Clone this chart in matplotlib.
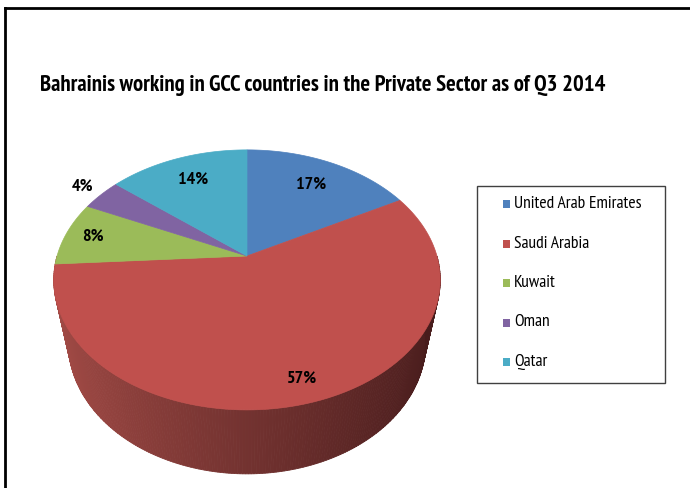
import numpy as np
import matplotlib
matplotlib.use("Agg")
import matplotlib.pyplot as plt
from matplotlib.patches import Polygon, Rectangle
from matplotlib.lines import Line2D
from matplotlib import font_manager

countries = ["United Arab Emirates", "Saudi Arabia", "Kuwait", "Oman", "Qatar"]
shares = [17, 57, 8, 4, 14]
colors = ["#4F81BD", "#C0504D", "#9BBB59", "#8064A2", "#4BACC6"]
title = "Bahrainis working in GCC countries in the Private Sector as of Q3 2014"

names = {f.name for f in font_manager.fontManager.ttflist}
FONT = "PT Sans Narrow" if "PT Sans Narrow" in names else "DejaVu Sans"

# perspective camera for the tilted pie
ELEV = np.radians(41.4)
DIST = 4.08
FOCAL = 775.0
THICK = 0.487
CX, CY = 247.0, 256.0


def project(x, y, z):
    depth = DIST + y * np.cos(ELEV) - z * np.sin(ELEV)
    sx = FOCAL * x / depth
    sy = FOCAL * (y * np.sin(ELEV) + z * np.cos(ELEV)) / depth
    return CX + sx, CY - sy


def arc(a0, a1, z, n=120):
    t = np.radians(np.linspace(a0, a1, n))
    return project(np.cos(t), np.sin(t), z)


def fit_width(txt, width):
    # shrink/grow a text so it spans the given pixel width
    r = fig.canvas.get_renderer()
    w = txt.get_window_extent(renderer=r).width
    txt.set_fontsize(txt.get_fontsize() * width / w)


fig = plt.figure(figsize=(6.9, 4.88), dpi=100)
ax = fig.add_axes([0, 0, 1, 1])
ax.set_xlim(0, 690)
ax.set_ylim(488, 0)
ax.axis("off")

# slice angle ranges, clockwise from 12 o'clock
fracs = np.array(shares) / sum(shares)
starts = 90 - 360 * np.concatenate([[0], np.cumsum(fracs)[:-1]])
ends = starts - 360 * fracs

# side wall: only the front half faces the viewer, shaded light left -> dark right
side_a = np.linspace(-180, 0, 240)
light = np.array([0.65, 0.30, 0.28])
dark = np.array([0.28, 0.11, 0.11])
for a0, a1 in zip(side_a[:-1], side_a[1:]):
    tx, ty = arc(a0, a1, 0, 4)
    bx, by = arc(a1, a0, -THICK, 4)
    k = (np.cos(np.radians((a0 + a1) / 2)) + 1) / 2
    c = light + (dark - light) * k ** 0.9
    ax.add_patch(Polygon(np.column_stack([np.r_[tx, bx], np.r_[ty, by]]),
                         closed=True, facecolor=c, edgecolor=c, lw=0.6))

# top faces
for s, e, col in zip(starts, ends, colors):
    ax_, ay_ = arc(s, e, 0)
    px = np.r_[CX, ax_]
    py = np.r_[CY, ay_]
    ax.add_patch(Polygon(np.column_stack([px, py]), closed=True,
                         facecolor=col, edgecolor=col, lw=0.5))

# percentage labels
label_r = [0.74, 0.86, 0.85, 1.14, 0.75]
for s, e, r, v in zip(starts, ends, label_r, shares):
    m = np.radians((s + e) / 2)
    lx, ly = project(r * np.cos(m), r * np.sin(m), 0)
    ax.text(lx, ly, f"{v}%", ha="center", va="center", fontsize=13,
            fontweight="bold", family=FONT, color="black")

t = ax.text(40, 85, title, ha="left", va="center", fontsize=16,
            fontweight="bold", family=FONT, color="black")
fit_width(t, 563)

# legend box
ax.add_patch(Rectangle((477, 186), 188, 197, facecolor="white",
                       edgecolor="#404040", lw=1.0))
for i, (name, col) in enumerate(zip(countries, colors)):
    yy = 204 + i * 39.5
    ax.add_patch(Rectangle((503, yy - 4), 7, 8, facecolor=col, edgecolor="none"))
    lt = ax.text(514, yy, name, ha="left", va="center", fontsize=12,
                 family=FONT, color="black")
    if i == 0:
        fit_width(lt, 127)
        leg_size = lt.get_fontsize()
    else:
        lt.set_fontsize(leg_size)

# outer frame on the left and top
ax.add_line(Line2D([4.5, 4.5], [488, 8], color="black", lw=2))
ax.add_line(Line2D([4.5, 690], [8, 8], color="black", lw=2))

fig.savefig("out.png", dpi=100)
